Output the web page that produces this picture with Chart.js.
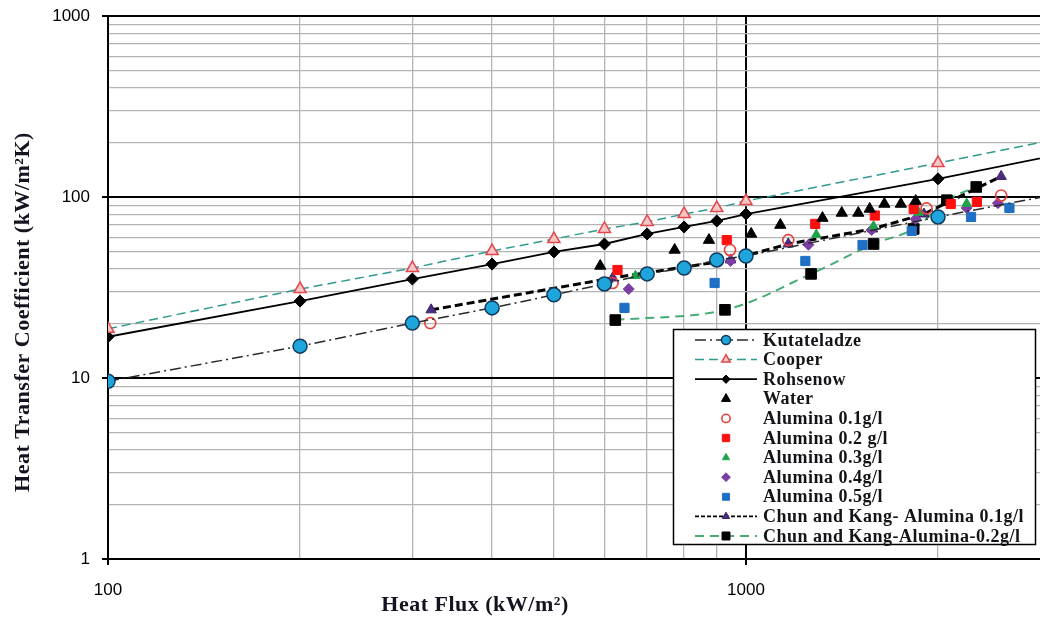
<!DOCTYPE html>
<html><head><meta charset="utf-8">
<script src="https://cdn.jsdelivr.net/npm/chart.js@4.4.0/dist/chart.umd.min.js"></script>
<style>html,body{margin:0;padding:0;background:#fff;}#wrap{width:1040px;height:622px;}</style>
</head><body><div id="wrap"><canvas id="c" width="1040" height="622"></canvas></div>
<script>
// ---- data ----
const modelFlux     = [100,200,300,400,500,600,700,800,900,1000,2000,3000];
const kutateladzeH  = [9.6,15.0,20.1,24.4,28.8,33.1,37.6,40.5,44.9,47.2,77.6,102];
const cooperH       = [18.7,31,40.5,50.3,58.6,66.6,72.8,80.5,86.9,95,154,205];
const rohsenowH     = [16.9,26.6,35.2,42.6,49.7,55,62.5,68.3,73.7,80.5,126,168];

const waterFlux = [591,773,875,1019,1132,1318,1413,1500,1563,1648,1749,1845];
const waterH    = [41.6,51,57.8,62.5,70,76.5,81.6,81.6,85.9,91.5,91.5,95];

const al01Flux = [320,618,944,1165,1919,2512];
const al01H    = [20.1,33.5,51,57.8,86.5,102];
const al02Flux = [629,933,1284,1592,1832,2094,2301];
const al02H    = [39.5,57.8,71,79,86,91.5,94];
const al03Flux = [671,1289,1585,1866,2218];
const al03H    = [36.7,62,69,82,92];
const al04Flux = [655,946,1253,1574,1845,2218,2483];
const al04H    = [31,44.3,54.5,65.8,75.5,87,92.5];
const al05Flux = [645,893,1239,1523,1819,2253,2588];
const al05H    = [24.4,33.5,44.3,54.3,65,77.6,87];

const ck01Flux = [321,618,946,1165,1579,1901,2512];
const ck01H    = [23.8,35.7,44.9,55,66.6,80.5,130];
const ck02Flux = [624,927,1265,1585,1832,2065,2296];
const ck02H    = [20.9,23.8,37.6,55,66.6,96,113.6];

const seriesNames = ['Kutateladze','Cooper','Rohsenow','Water','Alumina 0.1g/l','Alumina 0.2 g/l',
  'Alumina 0.3g/l','Alumina 0.4g/l','Alumina 0.5g/l','Chun and Kang- Alumina 0.1g/l','Chun and Kang-Alumina-0.2g/l'];
const xTitle = 'Heat Flux (kW/m\u00B2)';
const yTitle = 'Heat Transfer Coefficient (kW/m\u00B2K)';
const xMin = 100, xMax = 2890, yMin = 1, yMax = 1000;

const pts = (xs, ys) => xs.map((x, i) => ({x, y: ys[i]}));
const isDecade = v => { const l = Math.log10(v); return Math.abs(l - Math.round(l)) < 1e-9; };
const isNice = v => { const p = Math.pow(10, Math.floor(Math.log10(v) + 1e-9)); const s = v / p; return Math.abs(s - Math.round(s)) < 1e-6; };

const datasets = [
  {label: seriesNames[0], data: pts(modelFlux, kutateladzeH), showLine: true, borderColor: '#2a2a2a', borderWidth: 1.5,
   borderDash: [11,4,2,4], pointStyle: 'circle', pointRadius: 7, pointBackgroundColor: '#1ea6dc', pointBorderColor: '#123a5c', pointBorderWidth: 1.5},
  {label: seriesNames[1], data: pts(modelFlux, cooperH), showLine: true, borderColor: '#2f9a90', borderWidth: 1.5,
   borderDash: [9,5], pointStyle: 'triangle', pointRadius: 7, pointBackgroundColor: '#f6c6c6', pointBorderColor: '#e2474c', pointBorderWidth: 1.5},
  {label: seriesNames[2], data: pts(modelFlux, rohsenowH), showLine: true, borderColor: '#000', borderWidth: 1.8,
   pointStyle: 'rectRot', pointRadius: 6, pointBackgroundColor: '#000', pointBorderColor: '#000', pointBorderWidth: 1},
  {label: seriesNames[3], data: pts(waterFlux, waterH), showLine: false, pointStyle: 'triangle', pointRadius: 6.5,
   pointBackgroundColor: '#000', pointBorderColor: '#000', pointBorderWidth: 1},
  {label: seriesNames[4], data: pts(al01Flux, al01H), showLine: false, pointStyle: 'circle', pointRadius: 5.5,
   pointBackgroundColor: 'rgba(255,255,255,0)', pointBorderColor: '#e8403a', pointBorderWidth: 1.6},
  {label: seriesNames[5], data: pts(al02Flux, al02H), showLine: false, pointStyle: 'rect', pointRadius: 6.5,
   pointBackgroundColor: '#ff1010', pointBorderColor: '#ff1010', pointBorderWidth: 1},
  {label: seriesNames[6], data: pts(al03Flux, al03H), showLine: false, pointStyle: 'triangle', pointRadius: 5.5,
   pointBackgroundColor: '#1fa34a', pointBorderColor: '#1fa34a', pointBorderWidth: 1},
  {label: seriesNames[7], data: pts(al04Flux, al04H), showLine: false, pointStyle: 'rectRot', pointRadius: 5.5,
   pointBackgroundColor: '#7b3fa3', pointBorderColor: '#7b3fa3', pointBorderWidth: 1},
  {label: seriesNames[8], data: pts(al05Flux, al05H), showLine: false, pointStyle: 'rect', pointRadius: 6.5,
   pointBackgroundColor: '#1f70c4', pointBorderColor: '#1f70c4', pointBorderWidth: 1},
  {label: seriesNames[9], data: pts(ck01Flux, ck01H), showLine: true, borderColor: '#000', borderWidth: 3,
   borderDash: [8,4], pointStyle: 'triangle', pointRadius: 6, pointBackgroundColor: '#4a2d80', pointBorderColor: '#3a2266', pointBorderWidth: 1},
  {label: seriesNames[10], data: pts(ck02Flux, ck02H), showLine: true, borderColor: '#45ad74', borderWidth: 2,
   borderDash: [9,6], tension: 0.35, pointStyle: 'rect', pointRadius: 7.5, pointBackgroundColor: '#000', pointBorderColor: '#000', pointBorderWidth: 1}
];

function drawMarker(ctx, style, x, y, r, fill, stroke, lw) {
  ctx.save();
  ctx.beginPath();
  if (style === 'circle') ctx.arc(x, y, r, 0, Math.PI * 2);
  else if (style === 'triangle') { ctx.moveTo(x, y - r); ctx.lineTo(x + r * 0.866, y + r * 0.5); ctx.lineTo(x - r * 0.866, y + r * 0.5); ctx.closePath(); }
  else if (style === 'rect') { const s = r * Math.SQRT1_2; ctx.rect(x - s, y - s, 2 * s, 2 * s); }
  else if (style === 'rectRot') { ctx.moveTo(x, y - r); ctx.lineTo(x + r, y); ctx.lineTo(x, y + r); ctx.lineTo(x - r, y); ctx.closePath(); }
  ctx.fillStyle = fill; ctx.fill();
  if (lw > 0) { ctx.lineWidth = lw; ctx.strokeStyle = stroke; ctx.setLineDash([]); ctx.stroke(); }
  ctx.restore();
}

const overlay = {
  id: 'overlay',
  afterDraw(chart) {
    const ctx = chart.ctx;
    ctx.save();
    // axis titles
    ctx.fillStyle = '#141420';
    ctx.font = 'bold 22px "Liberation Serif", "Times New Roman", serif';
    ctx.letterSpacing = '0.5px';
    ctx.textAlign = 'center'; ctx.textBaseline = 'middle';
    ctx.fillText(xTitle, 475, 605);
    ctx.save();
    ctx.translate(23, 312); ctx.rotate(-Math.PI / 2);
    ctx.fillText(yTitle, 0, 0);
    ctx.restore();
    // legend box
    const L = 673, T = 329, R = 1036, B = 545;
    ctx.fillStyle = '#fff'; ctx.fillRect(L, T, R - L, B - T);
    ctx.strokeStyle = '#000'; ctx.lineWidth = 1.5; ctx.setLineDash([]);
    ctx.strokeRect(L + 0.5, T + 0.5, R - L - 1, B - T - 1);
    const legendMarkerScale = [0.65, 0.7, 0.7, 0.8, 0.75, 0.8, 0.75, 0.8, 0.75, 0.7, 0.75];
    datasets.forEach((ds, i) => {
      const y = 340 + i * 19.6;
      if (ds.showLine) {
        ctx.save();
        ctx.strokeStyle = ds.borderColor;
        ctx.lineWidth = Math.min(ds.borderWidth, 1.8);
        ctx.setLineDash(i === 9 ? [4, 2] : (ds.borderDash || []));
        ctx.beginPath(); ctx.moveTo(695, y); ctx.lineTo(757, y); ctx.stroke();
        ctx.restore();
      }
      drawMarker(ctx, ds.pointStyle, 726, y, ds.pointRadius * legendMarkerScale[i],
        ds.pointBackgroundColor, ds.pointBorderColor, ds.pointBorderWidth);
      ctx.fillStyle = '#141418';
      ctx.font = 'bold 18px "Liberation Serif", "Times New Roman", serif';
      ctx.letterSpacing = '0.5px';
      ctx.textAlign = 'left'; ctx.textBaseline = 'middle';
      ctx.fillText(ds.label, 763, y + 1);
    });
    ctx.restore();
  }
};

const gridColor = ctx => isDecade(ctx.tick.value) ? '#000' : '#b4b4b4';
const gridWidth = ctx => isDecade(ctx.tick.value) ? 2 : 1.3;
const tickColor = ctx => isDecade(ctx.tick.value) ? '#000' : 'rgba(0,0,0,0)';
const tickLabel = v => isNice(v) ? (isDecade(v) ? String(v) : '') : null;

new Chart(document.getElementById('c'), {
  type: 'scatter',
  data: {datasets},
  options: {
    responsive: false, animation: false, devicePixelRatio: 1,
    layout: {autoPadding: false, padding: {top: 16, right: 0, left: 0, bottom: 0}},
    plugins: {legend: {display: false}, tooltip: {enabled: false}},
    scales: {
      x: {type: 'logarithmic', min: xMin, max: xMax, position: 'bottom',
        grid: {color: gridColor, lineWidth: gridWidth, tickColor: tickColor, tickLength: 6, drawTicks: true},
        border: {display: true, color: '#000', width: 2},
        ticks: {callback: tickLabel, autoSkip: false, maxRotation: 0, padding: 15, color: '#000',
          font: {family: '"Liberation Sans", Arial, sans-serif', size: 17}},
        afterFit: s => { s.height = 63; s.paddingLeft = 0; s.paddingRight = 0; }},
      y: {type: 'logarithmic', min: yMin, max: yMax,
        grid: {color: gridColor, lineWidth: gridWidth, tickColor: tickColor, tickLength: 6, drawTicks: true},
        border: {display: true, color: '#000', width: 2},
        ticks: {callback: tickLabel, autoSkip: false, padding: 12, color: '#000',
          font: {family: '"Liberation Sans", Arial, sans-serif', size: 17}},
        afterFit: s => { s.width = 108; s.paddingTop = 0; s.paddingBottom = 0; }}
    }
  },
  plugins: [overlay]
});
</script></body></html>
